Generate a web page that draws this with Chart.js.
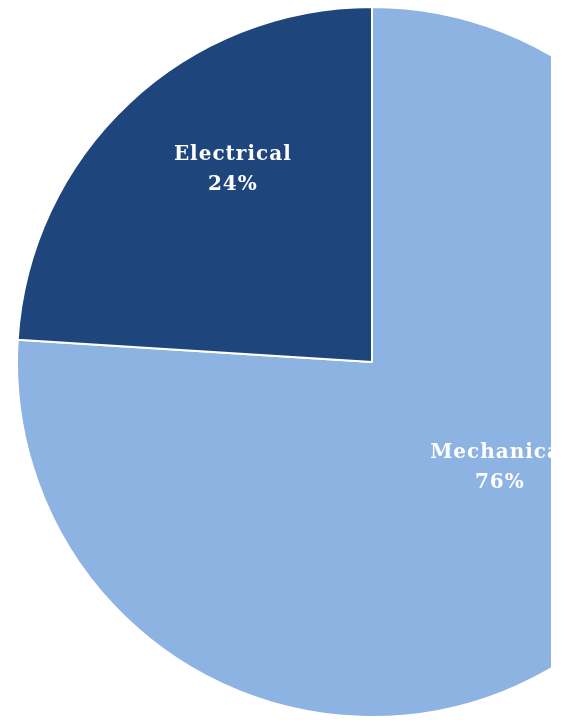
<!DOCTYPE html>
<html>
<head>
<meta charset="utf-8">
<script src="https://cdn.jsdelivr.net/npm/chart.js@4/dist/chart.umd.min.js"></script>
<style>
  html, body { margin: 0; padding: 0; background: #ffffff; width: 563px; height: 720px; overflow: hidden; }
  #clip { position: absolute; left: 16px; top: 6px; width: 535px; height: 714px; overflow: hidden; }
  #wrap { position: absolute; left: 0; top: 0; width: 712px; height: 712px; }
</style>
</head>
<body>
<div id="clip"><div id="wrap"><canvas id="c" width="712" height="712"></canvas></div></div>
<script>
const categories = ["Mechanical", "Electrical"];
const values = [76, 24];
const percentLabels = ["76%", "24%"];

const colors = ["#8DB3E2", "#1F467C"];
// label placement within each slice: fraction along the angle, fraction of radius
const labelPlacement = [{a: 0.474, r: 0.468}, {a: 0.584, r: 0.668}];

const labelPlugin = {
  id: 'sliceLabels',
  afterDatasetsDraw(chart) {
    const ctx = chart.ctx;
    const meta = chart.getDatasetMeta(0);
    ctx.save();
    ctx.fillStyle = '#ffffff';
    ctx.font = 'bold 20px "DejaVu Serif", serif';
    ctx.letterSpacing = '1px';
    ctx.textAlign = 'center';
    ctx.textBaseline = 'middle';
    meta.data.forEach((arc, i) => {
      const p = arc.getProps(['x', 'y', 'startAngle', 'endAngle', 'outerRadius'], true);
      const pl = labelPlacement[i];
      const ang = p.startAngle + pl.a * (p.endAngle - p.startAngle);
      const r = pl.r * p.outerRadius;
      const x = p.x + r * Math.cos(ang);
      const y = p.y + r * Math.sin(ang);
      ctx.fillText(categories[i], x, y - 15);
      ctx.fillText(percentLabels[i], x, y + 15);
    });
    ctx.restore();
  }
};

new Chart(document.getElementById('c'), {
  type: 'pie',
  data: {
    labels: categories,
    datasets: [{
      data: values,
      backgroundColor: colors,
      borderColor: '#ffffff',
      borderWidth: 2
    }]
  },
  options: {
    responsive: false,
    animation: false,
    layout: { padding: 0 },
    plugins: {
      legend: { display: false },
      tooltip: { enabled: false }
    }
  },
  plugins: [labelPlugin]
});
</script>
</body>
</html>
